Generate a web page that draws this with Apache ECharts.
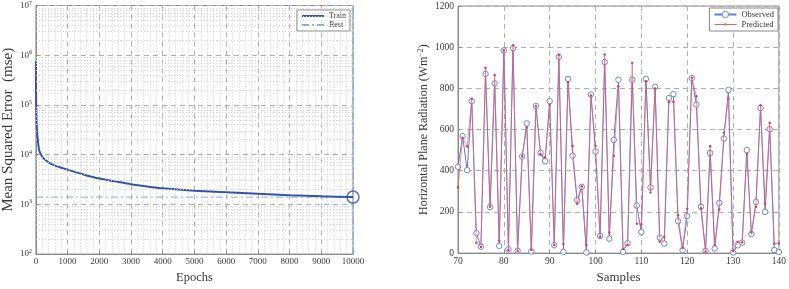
<!DOCTYPE html>
<html>
<head>
<meta charset="utf-8">
<script src="https://cdn.jsdelivr.net/npm/echarts@6/dist/echarts.min.js"></script>
<style>
html,body{margin:0;padding:0;background:#fff;}
#c{width:789px;height:289px;}
</style>
</head>
<body>
<div id="c"></div>
<script>
// ---- Left panel: training performance ----
const epochs   = [0, 3, 8, 15, 25, 50, 100, 190, 310, 520, 750, 1000, 1500, 2000, 2500, 3000, 3500, 4000, 5000, 6000, 7000, 8000, 9000, 10000];
const trainMSE = [750000, 300000, 120000, 65000, 40000, 23000, 12600, 9300, 7700, 6300, 5600, 5000, 4000, 3300, 2900, 2550, 2300, 2100, 1880, 1750, 1630, 1530, 1460, 1400];
const bestEpoch = 10000;
const bestMSE = 1400;
const logYMin = 100, logYMax = 10000000;

// ---- Right panel: observed vs predicted ----
const samples = [70,71,72,73,74,75,76,77,78,79,80,81,82,83,84,85,86,87,88,89,90,91,92,93,94,95,96,97,98,99,100,101,102,103,104,105,106,107,108,109,110,111,112,113,114,115,116,117,118,119,120,121,122,123,124,125,126,127,128,129,130,131,132,133,134,135,136,137,138,139,140];
const observed = [419,568,403,738,97,31,870,223,824,35,984,19,995,12,469,630,8,715,487,446,738,38,953,6,846,473,257,322,3,770,493,83,928,70,550,842,6,48,842,231,102,846,319,808,75,46,753,772,155,14,180,850,721,225,10,486,22,244,556,792,3,38,51,500,93,248,705,200,602,15,5];
const predicted = [320,560,518,750,50,30,900,225,865,60,985,15,1010,10,470,610,15,715,480,465,720,38,963,45,830,520,240,325,40,765,520,78,965,100,473,810,20,40,924,143,140,835,294,800,55,78,734,735,184,25,215,852,762,218,5,519,40,212,584,750,10,55,52,481,100,225,718,240,632,46,47];

function toPts(xs, ys){ return xs.map((x,i)=>[x, ys[i]]); }

// minor log grid values (2..9 x 10^n) for the log axis
const minorLog = [];
for (let e = Math.log10(logYMin); e < Math.log10(logYMax); e++) {
  for (let k = 2; k <= 9; k++) minorLog.push({yAxis: k * Math.pow(10, e)});
}

const FONT = 'Liberation Serif';
const TXT = '#3a3a3a';
const GRIDC = '#b0b0b0';
const TRAIN_C = '#3452ae', BEST_C = '#8ea2de', OBS_C = '#6479cf', PRED_C = '#e8636b';

// legend icon for "Predicted": thin line with a small dot (tiny corner squares fix the box size)
const predIcon = 'path://M0,0h0.01v0.01h-0.01Z M22,8h0.01v0.01h-0.01Z M0,3.6H22V4.4H0Z M11,2.7A1.3,1.3,0,1,1,11,5.3A1.3,1.3,0,1,1,11,2.7Z';

const chart = echarts.init(document.getElementById('c'), null, {renderer:'canvas'});
const noComma = v => String(v);
chart.setOption({
  animation: false,
  backgroundColor: '#fff',
  textStyle: {fontFamily: FONT, color: TXT},
  grid: [
    {left: 32, right: 436, top: 5, bottom: 29, show: true, borderColor: '#8a8a8a', borderWidth: 1, backgroundColor: '#fff'},
    {left: 458, right: 8, top: 6, bottom: 28, show: true, borderColor: '#8a8a8a', borderWidth: 1, backgroundColor: '#fff'}
  ],
  legend: [
    {
      data: [
        {name: 'Train', itemStyle: {opacity: 0}, lineStyle: {type: 'solid', width: 2, color: TRAIN_C}},
        {name: 'Best', itemStyle: {opacity: 0}}
      ],
      orient: 'vertical', right: 439, top: 10,
      itemWidth: 22, itemHeight: 8, itemGap: 1, padding: [2, 4, 2, 4],
      borderColor: '#888', borderWidth: 1, borderRadius: 0, backgroundColor: '#fff',
      textStyle: {fontFamily: FONT, fontSize: 8, color: TXT}, selectedMode: false
    },
    {
      data: [
        {name: 'Observed', itemStyle: {color: '#fff', borderColor: OBS_C, borderWidth: 0.9}},
        {name: 'Predicted', icon: predIcon, itemStyle: {color: PRED_C}}
      ],
      orient: 'vertical', right: 11, top: 8,
      itemWidth: 22, itemHeight: 8, itemGap: 1, padding: [2, 4, 2, 4],
      borderColor: '#888', borderWidth: 1, borderRadius: 0, backgroundColor: '#fff',
      textStyle: {fontFamily: FONT, fontSize: 8.5, color: TXT}, selectedMode: false
    }
  ],
  xAxis: [
    {
      type: 'value', gridIndex: 0, min: 0, max: 10000, interval: 1000,
      name: 'Epochs', nameLocation: 'middle', nameGap: 13,
      nameTextStyle: {fontFamily: FONT, fontSize: 12.5, color: TXT},
      axisLine: {show: true, lineStyle: {color: '#8a8a8a'}},
      axisTick: {show: true, inside: true, length: 3, lineStyle: {color: '#8a8a8a'}},
      axisLabel: {fontFamily: FONT, fontSize: 9, color: TXT, margin: 3, formatter: noComma},
      splitLine: {show: true, lineStyle: {color: GRIDC, type: [5, 4], width: 1}},
      minorTick: {show: false, splitNumber: 5},
      minorSplitLine: {show: true, lineStyle: {color: '#d0d0d0', type: [1, 2], width: 1}}
    },
    {
      type: 'value', gridIndex: 1, min: 70, max: 140, interval: 10,
      name: 'Samples', nameLocation: 'middle', nameGap: 14,
      nameTextStyle: {fontFamily: FONT, fontSize: 13, color: TXT},
      axisLine: {show: true, lineStyle: {color: '#8a8a8a'}},
      axisTick: {show: true, inside: true, length: 3, lineStyle: {color: '#8a8a8a'}},
      axisLabel: {fontFamily: FONT, fontSize: 9.5, color: TXT, margin: 3, formatter: noComma},
      splitLine: {show: true, lineStyle: {color: GRIDC, type: [5, 4], width: 1}}
    }
  ],
  yAxis: [
    {
      type: 'log', gridIndex: 0, logBase: 10, min: logYMin, max: logYMax,
      name: 'Mean Squared Error  (mse)', nameLocation: 'middle', nameGap: 15, nameRotate: 90,
      nameTextStyle: {fontFamily: FONT, fontSize: 15, color: TXT},
      axisLine: {show: true, lineStyle: {color: '#8a8a8a'}},
      axisTick: {show: true, inside: true, length: 3, lineStyle: {color: '#8a8a8a'}},
      axisLabel: {
        fontFamily: FONT, color: TXT, margin: 4,
        formatter: v => '{b|10}{s|' + Math.round(Math.log10(v)) + '}',
        rich: {
          b: {fontFamily: FONT, fontSize: 9, color: TXT},
          s: {fontFamily: FONT, fontSize: 6, color: TXT, verticalAlign: 'top', padding: [0, 0, 5, 0]}
        }
      },
      splitLine: {show: true, lineStyle: {color: GRIDC, type: [5, 4], width: 1}}
    },
    {
      type: 'value', gridIndex: 1, min: 0, max: 1200, interval: 200,
      name: '{a|Horizontal Plane Radiation (Wm}{s|\u22122}{a|)}', nameLocation: 'middle', nameGap: 27, nameRotate: 90,
      nameTextStyle: {
        fontFamily: FONT, fontSize: 12, color: TXT,
        rich: {
          a: {fontFamily: FONT, fontSize: 12, color: TXT},
          s: {fontFamily: FONT, fontSize: 8, color: TXT, verticalAlign: 'top', padding: [0, 0, 6, 0]}
        }
      },
      axisLine: {show: true, lineStyle: {color: '#8a8a8a'}},
      axisTick: {show: true, inside: true, length: 3, lineStyle: {color: '#8a8a8a'}},
      axisLabel: {fontFamily: FONT, fontSize: 9.5, color: TXT, margin: 4, formatter: noComma},
      splitLine: {show: true, lineStyle: {color: GRIDC, type: [5, 4], width: 1}}
    }
  ],
  series: [
    {
      name: 'minorGrid', type: 'line', xAxisIndex: 0, yAxisIndex: 0, data: [], z: 1,
      markLine: {
        silent: true, symbol: ['none', 'none'], animation: false,
        label: {show: false},
        lineStyle: {color: '#d0d0d0', type: [1, 2], width: 1},
        data: minorLog
      }
    },
    {
      name: 'Best', type: 'line', xAxisIndex: 0, yAxisIndex: 0, symbol: 'none',
      lineStyle: {color: BEST_C, width: 1, type: [7, 3, 2, 3]},
      itemStyle: {color: BEST_C},
      data: [[0, bestMSE], [bestEpoch, bestMSE], null, [bestEpoch, logYMin], [bestEpoch, logYMax]],
      connectNulls: false, clip: false, z: 3
    },
    {
      name: 'Train', type: 'line', xAxisIndex: 0, yAxisIndex: 0, symbol: 'none',
      smooth: 0.2,
      lineStyle: {color: TRAIN_C, width: 2},
      itemStyle: {color: TRAIN_C},
      data: toPts(epochs, trainMSE), z: 4
    },
    {
      name: 'BestPoint', type: 'scatter', xAxisIndex: 0, yAxisIndex: 0,
      symbol: 'circle', symbolSize: 12, clip: false,
      itemStyle: {color: 'rgba(255,255,255,0)', borderColor: TRAIN_C, borderWidth: 1.5},
      data: [[bestEpoch, bestMSE]], z: 5
    },
    {
      name: 'Observed', type: 'line', xAxisIndex: 1, yAxisIndex: 1,
      symbol: 'circle', symbolSize: 5.5, showSymbol: true, showAllSymbol: true,
      lineStyle: {color: OBS_C, width: 1},
      itemStyle: {color: '#fff', borderColor: OBS_C, borderWidth: 0.9},
      data: toPts(samples, observed), z: 3
    },
    {
      name: 'Predicted', type: 'line', xAxisIndex: 1, yAxisIndex: 1,
      symbol: 'circle', symbolSize: 2.4, showSymbol: true, showAllSymbol: true,
      lineStyle: {color: PRED_C, width: 0.8, opacity: 0.85},
      itemStyle: {color: '#dd3f48'},
      data: toPts(samples, predicted), z: 4
    }
  ]
});
</script>
</body>
</html>
